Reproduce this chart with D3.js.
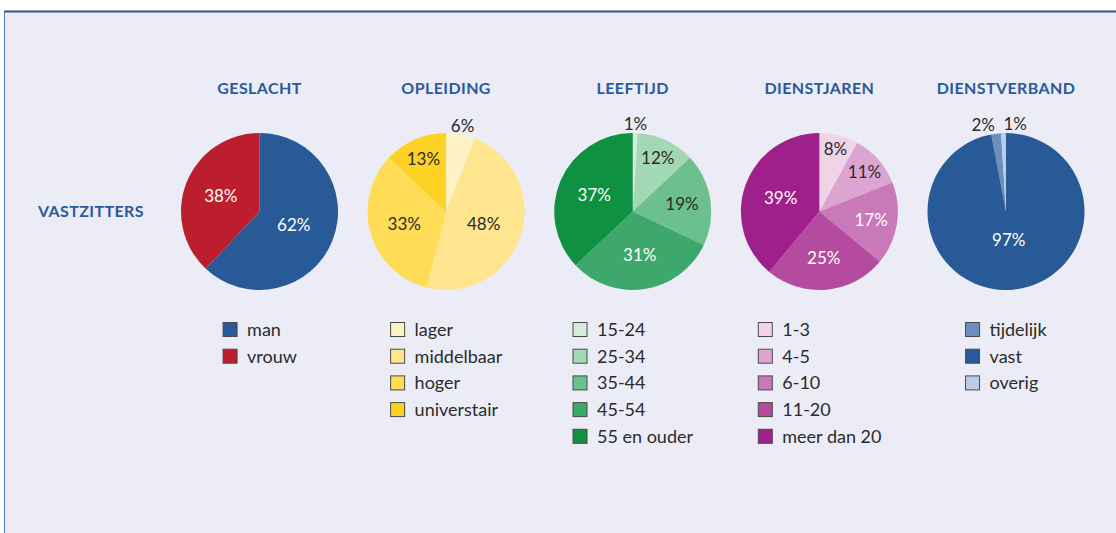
<!DOCTYPE html>
<html>
<head>
<meta charset="utf-8">
<script src="https://cdn.jsdelivr.net/npm/d3@7"></script>
<style>
  body { margin: 0; background: #fff; }
  svg { display: block; font-family: Lato, "Open Sans", sans-serif; }
</style>
</head>
<body>
<div id="wrapper"></div>
<script>
const groups = ["GESLACHT", "OPLEIDING", "LEEFTIJD", "DIENSTJAREN", "DIENSTVERBAND"];
const rowLabel = "VASTZITTERS";

const geslachtCats = ["man", "vrouw"];
const geslachtVals = [62, 38];
const geslachtColors = ["#275a97", "#bd1e2d"];

const opleidingCats = ["lager", "middelbaar", "hoger", "universtair"];
const opleidingVals = [6, 48, 33, 13];
const opleidingColors = ["#fff2c7", "#ffe58e", "#ffdc55", "#fdd225"];

const leeftijdCats = ["15-24", "25-34", "35-44", "45-54", "55 en ouder"];
const leeftijdVals = [1, 12, 19, 31, 37];
const leeftijdColors = ["#d2eedb", "#a2d8b3", "#6bc08e", "#3ea76b", "#0e9140"];

const dienstjarenCats = ["1-3", "4-5", "6-10", "11-20", "meer dan 20"];
const dienstjarenVals = [8, 11, 17, 25, 39];
const dienstjarenColors = ["#efd4e7", "#dca5d1", "#c978b9", "#b54b9f", "#a0208b"];

const dienstverbandCats = ["tijdelijk", "vast", "overig"];
const dienstverbandVals = [2, 97, 1];
const dienstverbandColors = ["#6d8fbe", "#275a97", "#bccce2"];

const pies = [
  { title: groups[0], cats: geslachtCats, vals: geslachtVals, colors: geslachtColors },
  { title: groups[1], cats: opleidingCats, vals: opleidingVals, colors: opleidingColors },
  { title: groups[2], cats: leeftijdCats, vals: leeftijdVals, colors: leeftijdColors },
  { title: groups[3], cats: dienstjarenCats, vals: dienstjarenVals, colors: dienstjarenColors },
  { title: groups[4], cats: dienstverbandCats, vals: dienstverbandVals, colors: dienstverbandColors, sortDesc: true },
];

const width = 1116;
const height = 533;
const radius = 78.5;
const cy = 211.5;
const titleColor = "#2a5a9a";

const svg = d3
  .select("#wrapper")
  .append("svg")
  .attr("width", width)
  .attr("height", height);

// panel
svg
  .append("rect")
  .attr("x", 4.5)
  .attr("y", 11.5)
  .attr("width", width)
  .attr("height", height)
  .attr("fill", "#ebecf5")
  .attr("stroke", "#5a7cc0")
  .attr("stroke-width", 1);
svg
  .append("line")
  .attr("x1", 4)
  .attr("x2", width)
  .attr("y1", 11.5)
  .attr("y2", 11.5)
  .attr("stroke", "#2f5597")
  .attr("stroke-width", 2);

const xScale = d3.scalePoint().domain(groups).range([259.5, 1006]);

svg
  .append("text")
  .attr("x", 38)
  .attr("y", 217)
  .attr("fill", titleColor)
  .style("font-size", "16px")
  .style("font-weight", "bold")
  .style("letter-spacing", "0.4px")
  .text(rowLabel);

const pieGen = d3.pie().value((d) => d.value);
const arc = d3.arc().innerRadius(0).outerRadius(radius);

// label radius (as fraction of r) shrinks as slices get bigger
const labelRadius = d3
  .scaleLinear()
  .domain([0.08, 0.13, 0.2, 0.4, 0.62, 0.97])
  .range([0.82, 0.73, 0.62, 0.52, 0.47, 0.37])
  .clamp(true);

const isDark = (c) => d3.lab(c).l < 66;

pies.forEach((p) => {
  const cx = xScale(p.title);
  const data = p.vals.map((v, i) => ({ value: v, cat: p.cats[i], color: p.colors[i] }));
  const total = d3.sum(p.vals);

  svg
    .append("text")
    .attr("x", cx)
    .attr("y", 94)
    .attr("fill", titleColor)
    .style("font-size", "16px")
    .style("font-weight", "bold")
    .style("letter-spacing", "0.4px")
    .style("text-anchor", "middle")
    .text(p.title);

  const g = svg.append("g").attr("transform", `translate(${cx},${cy})`);

  pieGen.sort(p.sortDesc ? (a, b) => b.value - a.value : null);
  const arcs = pieGen(data);

  g.selectAll("path")
    .data(arcs)
    .join("path")
    .attr("d", arc)
    .attr("fill", (d) => d.data.color);

  const inside = arcs.filter((d) => d.data.value / total >= 0.07);
  const outside = arcs.filter((d) => d.data.value / total < 0.07);

  inside.forEach((d) => {
    const share = d.data.value / total;
    const r = radius * labelRadius(share);
    const a = (d.startAngle + d.endAngle) / 2;
    g.append("text")
      .attr("x", Math.sin(a) * r)
      .attr("y", -Math.cos(a) * r)
      .attr("dy", "0.35em")
      .attr("fill", isDark(d.data.color) ? "#ffffff" : "#2b2b2b")
      .style("font-size", "17px")
      .style("text-anchor", "middle")
      .text(d.data.value + "%");
  });

  // small slices: labels just outside the rim, pushed apart if they overlap
  const outPos = outside
    .map((d) => {
      const a = (d.startAngle + d.endAngle) / 2;
      const r = radius + 9;
      return { d, x: Math.sin(a) * r, y: -Math.cos(a) * r };
    })
    .sort((a, b) => a.x - b.x);
  const minGap = 32;
  if (outPos.length > 1) {
    const mean = d3.mean(outPos, (o) => o.x);
    const span = minGap * (outPos.length - 1);
    outPos.forEach((o, i) => {
      o.x = mean - span / 2 + i * minGap;
    });
  }
  outPos.forEach((o) => {
    g.append("text")
      .attr("x", o.x)
      .attr("y", o.y)
      .attr("dy", "0.35em")
      .attr("fill", "#2b2b2b")
      .style("font-size", "17px")
      .style("text-anchor", "middle")
      .text(o.d.data.value + "%");
  });

  // legend, centred under the pie
  const legend = svg.append("g");
  const rows = legend
    .selectAll("g")
    .data(data)
    .join("g")
    .attr("transform", (d, i) => `translate(0,${329.5 + i * 26.7})`);
  rows
    .append("rect")
    .attr("x", 0.5)
    .attr("y", -7)
    .attr("width", 14)
    .attr("height", 14)
    .attr("fill", (d) => d.color)
    .attr("stroke", "#4a4a4a")
    .attr("stroke-width", 1);
  rows
    .append("text")
    .attr("x", 24.5)
    .attr("dy", "0.35em")
    .attr("fill", "#2b2b2b")
    .style("font-size", "18px")
    .text((d) => d.cat);
  const bw = legend.node().getBBox().width;
  legend.attr("transform", `translate(${cx - bw / 2},0)`);
});
</script>
</body>
</html>
